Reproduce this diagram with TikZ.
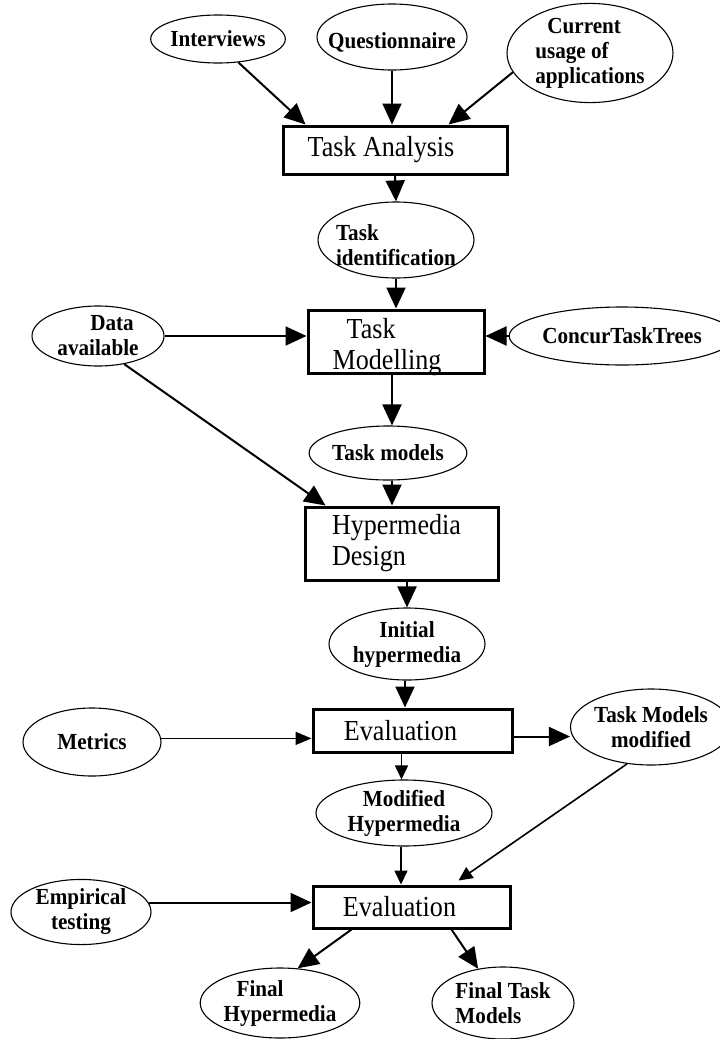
\documentclass[tikz,border=0pt]{standalone}
\usepackage{fontspec}
\setmainfont{Liberation Serif}
\newfontfamily\ovalfont{Liberation Serif}[FakeStretch=0.92]
\newfontfamily\stagefont{Liberation Serif}[FakeStretch=0.9]
\usetikzlibrary{arrows.meta,shapes.geometric}
\tikzset{
  ovaltext/.style={inner sep=0pt, font=\ovalfont\fontsize{23}{25}\selectfont\bfseries, align=center},
  stagetext/.style={inner sep=0pt, font=\stagefont\fontsize{29}{31}\selectfont, align=left},
  oval/.style n args={2}{ovaltext, ellipse, draw, line width=1.1pt,
    minimum width=#1, minimum height=#2},
  stage/.style n args={2}{stagetext, rectangle, draw, line width=3pt,
    minimum width=#1, minimum height=#2},
  flow/.style={line width=2pt, -{Triangle[length=21pt,width=19pt]}},
  flowmid/.style={line width=1.6pt, -{Triangle[length=16pt,width=13pt]}},
  flowsmall/.style={line width=1.6pt, -{Triangle[length=14pt,width=13pt]}},
}
\begin{document}
\begin{tikzpicture}[x=1pt,y=-1pt]
\useasboundingbox (0,0) rectangle (720,1039);

% inputs to the task analysis
\node[oval={124pt}{48pt}] (intv) at (218,39) {Interviews};
\node[oval={150pt}{66pt}] (quest) at (392,37) {};
\node[ovaltext] (quest-t) at ([yshift=-5pt]quest.center) {Questionnaire};
\node[oval={166pt}{96pt}, align=left] (curr) at (590,53) {\hspace*{12pt}Current\\usage of\\applications};

% main stages
\node[stage={224pt}{48pt}] (ta) at (395,150) {Task Analysis\hspace*{28pt}};
\node[oval={156pt}{76pt}] (tid) at (396,240) {};
\node[ovaltext, align=left] (tid-t) at ([yshift=-5pt]tid.center) {Task\\identification};
\node[stage={176pt}{63pt}] (tm) at (396,341.5) {};
\node[stagetext] (tm-t) at ([yshift=-6pt]tm.center) {\hspace*{14pt}Task\\Modelling\hspace*{18pt}};
\node[oval={132pt}{60pt}] (data) at (98,336) {\hspace*{28pt}Data\\available};
\node[oval={196pt}{58pt}] (ctt) at (622,336) {ConcurTaskTrees};
\node[oval={150pt}{54pt}] (tmod) at (388,453) {Task models};
\node[stage={193pt}{73pt}] (hd) at (401.5,543.5) {Hypermedia\hspace*{10pt}\\Design};
\node[oval={156pt}{72pt}] (ini) at (407,644) {Initial\\hypermedia};

% first evaluation
\node[stage={199pt}{43pt}] (ev1) at (412.5,730.5) {Evaluation\hspace*{24pt}};
\node[oval={138pt}{68pt}] (met) at (92,742) {Metrics};
\node[oval={140pt}{76pt}] (tmm) at (651,727) {Task Models\\modified};
\node[oval={176pt}{66pt}] (mh) at (404,813) {Modified\\Hypermedia};

% second evaluation and results
\node[stage={197pt}{42pt}] (ev2) at (411.5,907) {Evaluation\hspace*{24pt}};
\node[oval={140pt}{62pt}] (emp) at (81,912) {Empirical\\testing};
\node[oval={158pt}{70pt}, align=left] (fh) at (280,1003) {\hspace*{13pt}Final\\Hypermedia};
\node[oval={142pt}{72pt}, align=left] (ftm) at (503,1003) {Final Task\\Models};

% connectors
\draw[flow] (intv.311) -- ([xshift=24pt]ta.north west);
\draw[flow] (quest.south) -- (quest.south |- ta.north);
\draw[flow] (curr.194) -- ([xshift=-60pt]ta.north east);
\draw[flow] (ta.south) -- (tid.north);
\draw[flow] (tid.south) -- (tid.south |- tm.north);
\draw[flow] (data.east) -- (data.east -| tm.west);
\draw[flow] (ctt.west) -- (ctt.west -| tm.east);
\draw[flow] ([xshift=-4pt]tm.south) -- ([xshift=4pt]tmod.north);
\draw[flow] ([xshift=4pt]tmod.south) -- ([xshift=4pt]tmod.south |- hd.north);
\draw[flow] (data.313) -- ([xshift=22pt]hd.north west);
\draw[flow] (ini.north |- hd.south) -- (ini.north);
\draw[flow] ([xshift=-2pt]ini.south) -- ([xshift=-2pt]ini.south |- ev1.north);
\draw[flowmid] (met.3) -- (met.3 -| ev1.west);
\coordinate (e1r) at ([yshift=-6pt]ev1.east);
\draw[flow] (e1r) -- (e1r -| tmm.west);
\draw[flowsmall] ([xshift=-11pt]ev1.south) -- ([xshift=-11pt]ev1.south |- mh.north);
\draw[flowsmall] ([xshift=-3pt]mh.south) -- ([xshift=-3pt]mh.south |- ev2.north);
\draw[flowsmall] (tmm.237) -- ([xshift=47pt,yshift=4pt]ev2.north);
\draw[flow] (emp.8) -- (emp.8 -| ev2.west);
\draw[flow] ([xshift=-60pt]ev2.south) -- (fh.63);
\draw[flow] ([xshift=40pt]ev2.south) -- (ftm.126);
\end{tikzpicture}
\end{document}
